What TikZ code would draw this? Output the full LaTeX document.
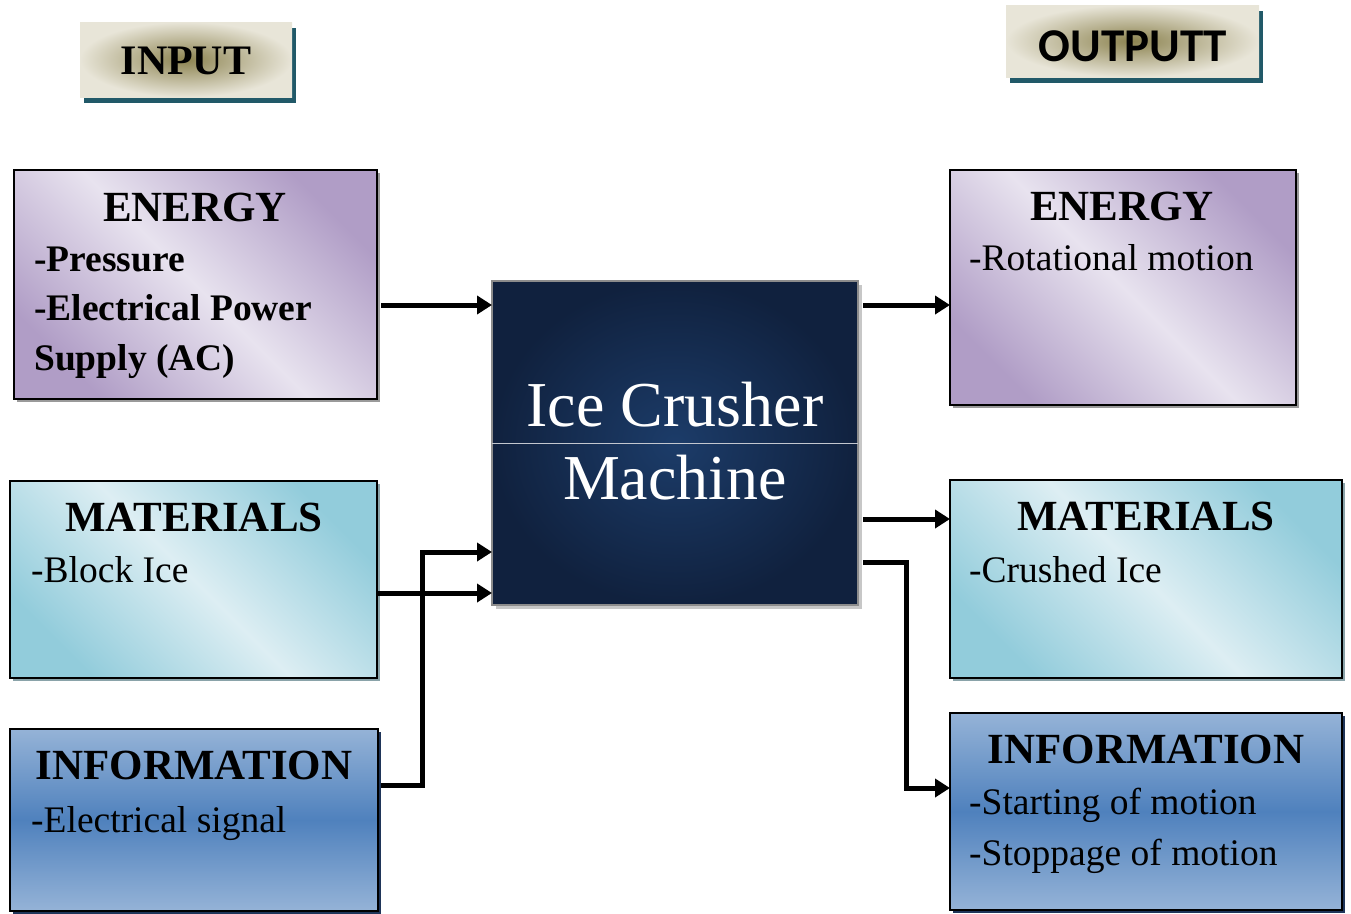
\documentclass[tikz,border=0pt]{standalone}
\usepackage{fontspec}
\setmainfont{Liberation Serif}
\newfontfamily\carl{Carlito}
\usetikzlibrary{arrows.meta,shadows}
\definecolor{purD}{HTML}{B09DC6}
\definecolor{purL}{HTML}{E8E3EF}
\definecolor{tealD}{HTML}{92CCDB}
\definecolor{tealL}{HTML}{DDEEF3}
\definecolor{bluL}{HTML}{95B3D7}
\definecolor{bluD}{HTML}{4F81BD}
\definecolor{navyD}{HTML}{10213E}
\definecolor{navyL}{HTML}{1C3C69}
\definecolor{begL}{HTML}{E8E5D8}
\definecolor{begD}{HTML}{8C8350}
\definecolor{shTeal}{HTML}{215968}
\definecolor{shGray}{HTML}{9A9A9A}
\definecolor{shTealG}{HTML}{8AA3A9}
\definecolor{shNavy}{HTML}{1F3559}
\tikzset{
  box/.style={draw=black, line width=2pt, inner sep=0pt, outer sep=0pt},
  enbox/.style={box, top color=purD, bottom color=purD, middle color=purL, shading angle=-45,
    drop shadow={shadow xshift=3pt, shadow yshift=-3pt, fill=shGray, opacity=1}},
  matbox/.style={box, top color=tealD, bottom color=tealD, middle color=tealL, shading angle=-45,
    drop shadow={shadow xshift=3pt, shadow yshift=-3pt, fill=shTealG, opacity=1}},
  infbox/.style={box, top color=bluL, bottom color=bluL, middle color=bluD,
    drop shadow={shadow xshift=3pt, shadow yshift=-3pt, fill=shNavy, opacity=1}},
  tagbox/.style={inner sep=0pt, outer sep=0pt, inner color=begD, outer color=begL,
    drop shadow={shadow xshift=4pt, shadow yshift=-6pt, fill=shTeal, opacity=1}},
  mainbox/.style={draw=gray!90, line width=2pt, inner sep=0pt, outer sep=0pt, inner color=navyL, outer color=navyD,
    drop shadow={shadow xshift=4pt, shadow yshift=-4pt, fill=black!22, opacity=1}},
  head/.style={anchor=base, inner sep=0pt, font=\fontsize{43}{43}\selectfont\bfseries},
  bodyb/.style={anchor=base west, inner sep=0pt, font=\fontsize{37.5}{37.5}\selectfont\bfseries},
  bodyt/.style={anchor=base west, inner sep=0pt, font=\fontsize{37.5}{37.5}\selectfont},
  conn/.style={line width=5pt, -{Triangle[length=15pt,width=18pt]}},
}
\begin{document}
\begin{tikzpicture}[x=1pt,y=-1pt]
\useasboundingbox (0,0) rectangle (1351,913);
% tags
\node[tagbox, minimum width=212pt, minimum height=75pt] (tin) at (186,59.5) {};
\node[anchor=base, inner sep=0pt, font=\fontsize{42}{42}\selectfont\bfseries] (tint) at (186,74) {INPUT};
\node[tagbox, minimum width=253pt, minimum height=72pt] (tout) at (1132.5,41) {};
\node[anchor=base, inner sep=0pt, font=\fontsize{47}{47}\selectfont\carl\bfseries] (toutt) at (1133,61) {OUTPUTT};
% boxes
\node[enbox, minimum width=363pt, minimum height=229pt] (eL) at (195.5,284.5) {};
\node[matbox, minimum width=367pt, minimum height=197pt] (mL) at (193.5,579.5) {};
\node[infbox, minimum width=368pt, minimum height=182pt] (iL) at (194,820) {};
\node[mainbox, minimum width=366pt, minimum height=324pt] (c) at (675,443) {};
\node[enbox, minimum width=346pt, minimum height=235pt] (eR) at (1123,287.5) {};
\node[matbox, minimum width=392pt, minimum height=198pt] (mR) at (1146,579) {};
\node[infbox, minimum width=392pt, minimum height=197pt] (iR) at (1146,811.5) {};
% centre text
\draw[white!75!navyD, line width=0.8pt] (c.west) -- (c.east);
\node[anchor=base, inner sep=0pt, text=white, font=\fontsize{64}{64}\selectfont] (ct1) at (675,426) {Ice Crusher};
\node[anchor=base, inner sep=0pt, text=white, font=\fontsize{64}{64}\selectfont] (ct2) at (675,499) {Machine};
% left texts
\node[head] (eLh) at (195,221) {ENERGY};
\node[bodyb] (eL1) at (34,271) {-Pressure};
\node[bodyb] (eL2) at (34,320) {-Electrical Power};
\node[bodyb] (eL3) at (34,370) {Supply (AC)};
\node[head] (mLh) at (194,531) {MATERIALS};
\node[bodyt] (mL1) at (31,582) {-Block Ice};
\node[head] (iLh) at (194,779) {INFORMATION};
\node[bodyt] (iL1) at (31,832) {-Electrical signal};
% right texts
\node[head] (eRh) at (1122,220) {ENERGY};
\node[bodyt] (eR1) at (969,270) {-Rotational motion};
\node[head] (mRh) at (1146,530) {MATERIALS};
\node[bodyt] (mR1) at (969,582) {-Crushed Ice};
\node[head] (iRh) at (1146,763) {INFORMATION};
\node[bodyt] (iR1) at (969,814) {-Starting of motion};
\node[bodyt] (iR2) at (969,865) {-Stoppage of motion};
% connectors
\draw[conn] ([xshift=4pt,yshift=-20.5pt]eL.east) -- ([yshift=-20.5pt]eL.east -| c.west);
\draw[conn] ([yshift=-13.5pt]mL.east) -- ([yshift=-13.5pt]mL.east -| c.west);
\draw[conn] ([xshift=3pt,yshift=35pt]iL.east) -| ++(41pt,0pt) |- ([yshift=-109pt]c.west);
\draw[conn] ([xshift=5pt,yshift=-17.5pt]eR.west -| c.east) -- ([yshift=-17.5pt]eR.west);
\draw[conn] ([xshift=5pt,yshift=60pt]mR.west -| c.east) -- ([yshift=60pt]mR.west);
\coordinate (rk) at ([xshift=5pt,yshift=-119pt]c.east);
\draw[conn] (rk) -- ++(43pt,0pt) |- ([yshift=23.5pt]iR.west);
\end{tikzpicture}
\end{document}
